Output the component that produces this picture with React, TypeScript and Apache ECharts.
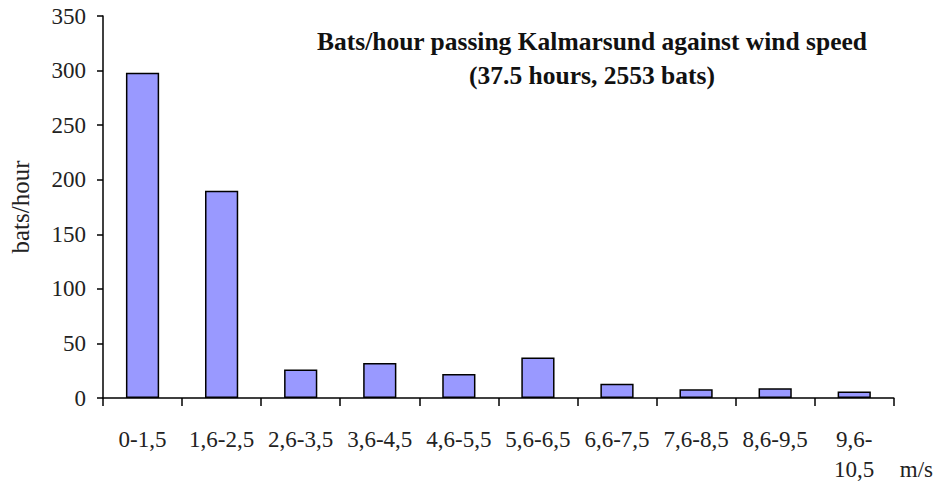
import React, { useEffect, useRef } from "react";
import * as echarts from "echarts";

const categories = ["0-1,5", "1,6-2,5", "2,6-3,5", "3,6-4,5", "4,6-5,5", "5,6-6,5", "6,6-7,5", "7,6-8,5", "8,6-9,5", "9,6-10,5"];
const batsPerHour = [298, 190, 26, 32, 22, 37, 13, 8, 9, 6];
const titleLines = ["Bats/hour passing Kalmarsund against wind speed", "(37.5 hours, 2553 bats)"];
const yAxisName = "bats/hour";
const xAxisName = "m/s";

const FONT = "'Liberation Serif', 'Times New Roman', serif";

export default function App() {
  const ref = useRef<HTMLDivElement>(null);
  useEffect(() => {
    if (!ref.current) return;
    document.body.style.margin = "0";
    const chart = echarts.init(ref.current, null, { renderer: "svg" });
    chart.setOption({
      animation: false,
      backgroundColor: "#ffffff",
      grid: { left: 100, right: 41, top: 16, bottom: 88, containLabel: false },
      graphic: [
        {
          type: "text",
          x: 592,
          y: 24,
          style: {
            text: titleLines.join("\n"),
            align: "center",
            verticalAlign: "top",
            font: `bold 25.5px ${FONT}`,
            lineHeight: 34,
            fill: "#111",
          },
        },
      ],
      xAxis: {
        type: "category",
        data: categories,
        name: xAxisName,
        nameLocation: "end",
        nameGap: 6,
        nameTextStyle: {
          fontFamily: FONT,
          fontSize: 23,
          color: "#222",
          align: "left",
          verticalAlign: "top",
          padding: [60, 0, 0, 0],
        },
        axisLine: { lineStyle: { color: "#000", width: 1.5 } },
        axisTick: { show: true, length: 8, alignWithLabel: false, lineStyle: { color: "#000", width: 1.5 } },
        axisLabel: {
          interval: 0,
          fontFamily: FONT,
          fontSize: 23,
          color: "#222",
          margin: 26,
          lineHeight: 30,
          formatter: (v: string) => (v.length > 7 ? v.replace("-", "-\n") : v),
        },
        splitLine: { show: false },
      },
      yAxis: {
        type: "value",
        min: 0,
        max: 350,
        interval: 50,
        name: yAxisName,
        nameLocation: "middle",
        nameRotate: 90,
        nameGap: 70,
        nameTextStyle: { fontFamily: FONT, fontSize: 25, color: "#222" },
        axisLine: { show: true, lineStyle: { color: "#000", width: 1.5 } },
        axisTick: { show: true, length: 6, lineStyle: { color: "#000", width: 1.5 } },
        axisLabel: { fontFamily: FONT, fontSize: 23, color: "#222", margin: 17 },
        splitLine: { show: false },
      },
      series: [
        {
          type: "bar",
          data: batsPerHour,
          barWidth: "42%",
          itemStyle: { color: "#9999FF", borderColor: "#000", borderWidth: 1.5 },
        },
      ],
    });
    return () => chart.dispose();
  }, []);
  return <div ref={ref} style={{ width: 936, height: 486 }} />;
}
